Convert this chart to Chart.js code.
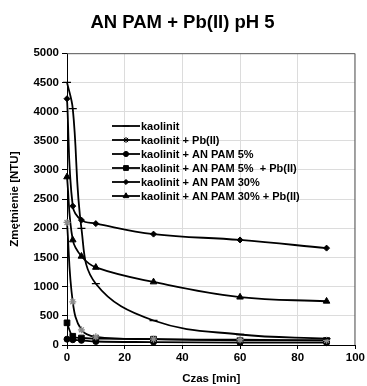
<!DOCTYPE html>
<html>
<head>
<meta charset="utf-8">
<script src="https://cdn.jsdelivr.net/npm/chart.js@4"></script>
<style>
  html, body { margin: 0; padding: 0; background: #fff; }
  #wrap { width: 367px; height: 386px; }
</style>
</head>
<body>
<div id="wrap"><canvas id="turbidity"></canvas></div>
<script>
const times = [0, 2, 5, 10, 30, 60, 90];
const seriesLabels = [
  "kaolinit",
  "kaolinit + Pb(II)",
  "kaolinit + AN PAM 5%",
  "kaolinit + AN PAM 5%  + Pb(II)",
  "kaolinit + AN PAM 30%",
  "kaolinit + AN PAM 30% + Pb(II)",
];
const kaolinit = [4500, 4050, 2000, 1050, 420, 180, 110];
const kaolinitPb = [2100, 740, 260, 140, 100, 90, 80];
const pam5 = [100, 90, 80, 60, 50, 40, 40];
const pam5Pb = [380, 150, 120, 110, 100, 80, 80];
const pam30 = [4220, 2380, 2140, 2080, 1900, 1800, 1660];
const pam30Pb = [2880, 1800, 1520, 1330, 1080, 820, 750];
const yTicks = [0, 500, 1000, 1500, 2000, 2500, 3000, 3500, 4000, 4500, 5000];
const xTicks = [0, 20, 40, 60, 80, 100];

const FONT = "'Liberation Sans', Arial, sans-serif";

function toPoints(values) {
  return times.map((t, i) => ({ x: t, y: values[i] }));
}

function makeSet(label, values, style, radius, markColor) {
  return {
    label: label,
    data: toPoints(values),
    borderColor: "#000",
    backgroundColor: "#000",
    pointBorderColor: markColor || "#000",
    pointBackgroundColor: markColor || "#000",
    borderWidth: 1.8,
    pointStyle: style,
    pointRadius: radius,
    pointBorderWidth: style === "line" || style === "star" ? 1.3 : 1,
    tension: 0.4,
    fill: false,
    clip: { left: 8, top: 0, right: 8, bottom: 3 },
  };
}

const datasets = [
  makeSet(seriesLabels[0], kaolinit, "line", 4),
  makeSet(seriesLabels[1], kaolinitPb, "star", 3.5, "#8c8c8c"),
  makeSet(seriesLabels[2], pam5, "circle", 3),
  makeSet(seriesLabels[3], pam5Pb, "rect", 4),
  makeSet(seriesLabels[4], pam30, "rectRot", 3),
  makeSet(seriesLabels[5], pam30Pb, "triangle", 3.8),
];

// frame + legend drawn inside the plot, like the Excel original
const frameAndLegend = {
  id: "frameAndLegend",
  beforeDatasetsDraw(chart) {
    const { ctx, chartArea: a } = chart;
    ctx.save();
    ctx.strokeStyle = "#595959";
    ctx.lineWidth = 1;
    ctx.beginPath();
    ctx.moveTo(a.left, a.top + 0.5);
    ctx.lineTo(a.right - 0.5, a.top + 0.5);
    ctx.lineTo(a.right - 0.5, a.bottom);
    ctx.stroke();
    ctx.restore();
  },
  afterDatasetsDraw(chart) {
    const { ctx } = chart;
    const x0 = 112, x1 = 140, y0 = 126, step = 14;
    ctx.save();
    ctx.font = "bold 11px " + FONT;
    ctx.textBaseline = "middle";
    chart.data.datasets.forEach((ds, i) => {
      const y = y0 + i * step;
      ctx.strokeStyle = "#000";
      ctx.fillStyle = "#000";
      ctx.lineWidth = 1.8;
      ctx.beginPath();
      ctx.moveTo(x0, y);
      ctx.lineTo(x1, y);
      ctx.stroke();
      ctx.lineWidth = 1;
      Chart.helpers.drawPoint(ctx, {
        pointStyle: ds.pointStyle,
        radius: ds.pointRadius * 0.85,
        borderWidth: 1,
      }, (x0 + x1) / 2, y);
      ctx.fillStyle = "#000";
      ctx.fillText(ds.label, x1 + 1, y + 0.5);
    });
    ctx.restore();
  },
};

const chart = new Chart(document.getElementById("turbidity"), {
  type: "line",
  data: { datasets: datasets },
  options: {
    responsive: true,
    maintainAspectRatio: false,
    animation: false,
    layout: { padding: { left: 8, right: 10, top: 0, bottom: 0 } },
    plugins: {
      legend: { display: false },
      tooltip: { enabled: false },
      title: {
        display: true,
        text: "AN PAM + Pb(II) pH 5",
        color: "#000",
        font: { family: FONT, size: 18.5, weight: "bold" },
        padding: { top: 12, bottom: 19 },
      },
    },
    scales: {
      x: {
        type: "linear",
        min: 0,
        max: 100,
        afterBuildTicks: (axis) => { axis.ticks = xTicks.map((v) => ({ value: v })); },
        afterFit: (axis) => { axis.height = 41; },
        ticks: {
          color: "#000",
          font: { family: FONT, size: 11.5, weight: "bold" },
          padding: 2,
          callback: (v) => String(v),
        },
        grid: { color: "#dcdcdc", tickColor: "#000", tickLength: 4 },
        border: { color: "#000", width: 1 },
        title: {
          display: true,
          text: "Czas [min]",
          color: "#000",
          font: { family: FONT, size: 11.5, weight: "bold" },
          padding: { top: 4, bottom: 0 },
        },
      },
      y: {
        min: 0,
        max: 5000,
        afterBuildTicks: (axis) => { axis.ticks = yTicks.map((v) => ({ value: v })); },
        afterFit: (axis) => { axis.width = 59; },
        ticks: {
          color: "#000",
          font: { family: FONT, size: 11.5, weight: "bold" },
          padding: 3,
          callback: (v) => String(v),
        },
        grid: { color: "#dcdcdc", tickColor: "#000", tickLength: 5 },
        border: { color: "#000", width: 1 },
        title: {
          display: true,
          text: "Zmętnienie [NTU]",
          color: "#000",
          font: { family: FONT, size: 11.5, weight: "bold" },
          padding: { top: 0, bottom: 2 },
        },
      },
    },
  },
  plugins: [frameAndLegend],
});
</script>
</body>
</html>
